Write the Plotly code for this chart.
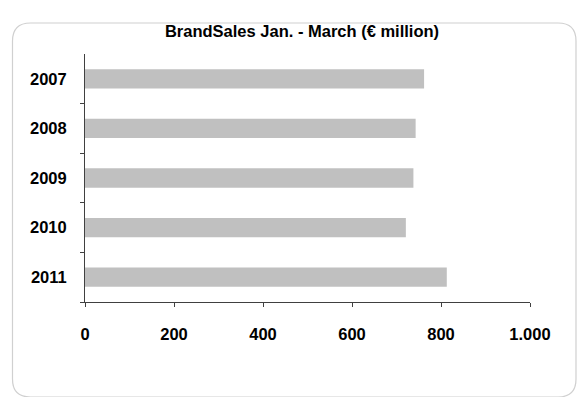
import plotly.graph_objects as go

years = ["2007", "2008", "2009", "2010", "2011"]
sales = [762, 743, 738, 721, 813]
x_ticks = [0, 200, 400, 600, 800, 1000]
x_tick_labels = ["0", "200", "400", "600", "800", "1.000"]

W, H = 577, 397
L, R, T, B = 85, 47, 54, 95
pw, ph = W - L - R, H - T - B

def px2paper(x, y):
    return (x - L) / pw, (H - B - y) / ph

def rounded_rect(x0, y0, x1, y1, r):
    def P(x, y):
        a, b = px2paper(x, y)
        return f"{a:.5f},{b:.5f}"
    d = f"M {P(x0 + r, y0)} L {P(x1 - r, y0)} Q {P(x1, y0)} {P(x1, y0 + r)} "
    d += f"L {P(x1, y1 - r)} Q {P(x1, y1)} {P(x1 - r, y1)} "
    d += f"L {P(x0 + r, y1)} Q {P(x0, y1)} {P(x0, y1 - r)} "
    d += f"L {P(x0, y0 + r)} Q {P(x0, y0)} {P(x0 + r, y0)} Z"
    return d

font = dict(family="Liberation Sans, Arial, sans-serif", size=16.5, color="black")

fig = go.Figure(go.Bar(
    y=years, x=sales, orientation="h",
    marker=dict(color="#c0c0c0", line=dict(width=0)),
    width=0.39,
))

fig.update_layout(
    width=W, height=H,
    margin=dict(l=L, r=R, t=T, b=B),
    paper_bgcolor="white", plot_bgcolor="white",
    showlegend=False,
    title=dict(text="<b>BrandSales Jan. - March (€ million)</b>",
               x=302 / W, xanchor="center", y=1 - 31 / H, yanchor="middle",
               font=dict(family="Liberation Sans, Arial, sans-serif", size=16.5, color="black")),
    xaxis=dict(range=[0, 1000], tickvals=x_ticks, ticktext=[f"<b>{t}</b>" for t in x_tick_labels],
               showgrid=False, zeroline=False, showline=True, linecolor="#404040", linewidth=1,
               ticks="outside", ticklen=4, tickcolor="#404040", tickfont=font,
               ticklabelstandoff=13),
    yaxis=dict(categoryorder="array", categoryarray=years[::-1],
               tickvals=years, ticktext=[f"<b>{y}</b>" for y in years],
               showgrid=False, zeroline=False, showline=True, linecolor="#404040", linewidth=1,
               ticks="outside", ticklen=4, tickcolor="#404040", tickson="boundaries",
               tickfont=font, ticklabelstandoff=14),
    shapes=[dict(type="path", xref="paper", yref="paper",
                 path=rounded_rect(12.5, 23, 576, 397, 18),
                 line=dict(color="#d0d0d0", width=1.2), fillcolor="rgba(0,0,0,0)",
                 layer="below")],
)

fig.write_html("out.html")
